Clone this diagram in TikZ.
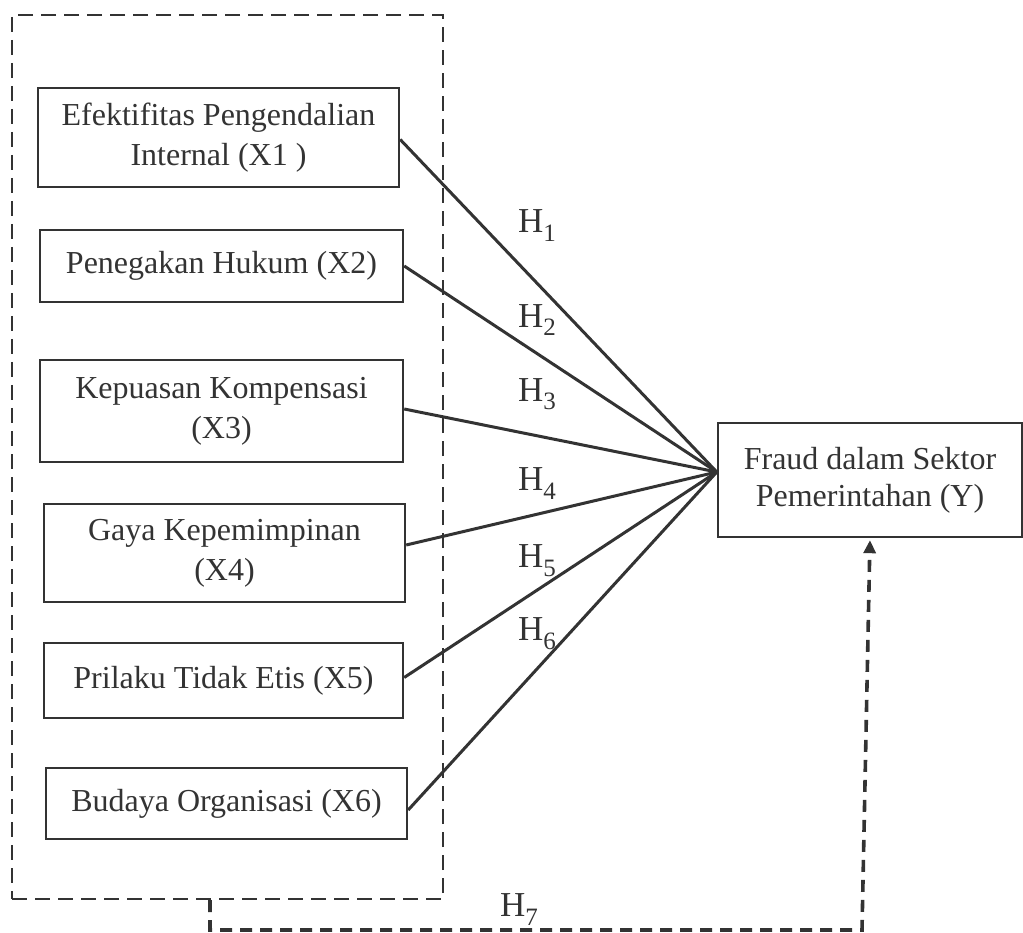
\documentclass[tikz,border=0pt]{standalone}
\usepackage{fontspec}
\setmainfont{Liberation Serif}
\usetikzlibrary{arrows.meta,calc}
\definecolor{ink}{HTML}{333333}
\newcommand{\hyp}[1]{H\raisebox{-9pt}{\fontsize{25}{25}\selectfont #1}}
\tikzset{
  varbox/.style={draw=ink, line width=2.4pt, text=ink, align=center, inner sep=0pt,
    font=\fontsize{32}{40}\selectfont},
  grpbox/.style={draw=ink, line width=2.4pt, dash pattern=on 15pt off 8pt, inner sep=0pt},
  link/.style={draw=ink, line width=3pt},
  dconn/.style={draw=ink, line width=3.6pt, dash pattern=on 12pt off 8pt},
  hlab/.style={text=ink, anchor=base west, inner sep=0pt, font=\fontsize{35}{38}\selectfont}
}
\begin{document}
\begin{tikzpicture}[x=1pt,y=-1pt]
\useasboundingbox (0,0) rectangle (1023,933);
\node[grpbox, minimum width=431pt, minimum height=884pt] (grp) at (227.5,457) {};
\node[varbox, minimum width=361pt, minimum height=99pt] (X1) at (218.5,137.5) {Efektifitas Pengendalian\\Internal (X1 )};
\node[varbox, minimum width=363pt, minimum height=72pt] (X2) at (221.5,266) {Penegakan Hukum (X2)};
\node[varbox, minimum width=363pt, minimum height=102pt] (X3) at (221.5,411) {Kepuasan Kompensasi\\(X3)};
\node[varbox, minimum width=361pt, minimum height=98pt] (X4) at (224.5,553) {Gaya Kepemimpinan\\(X4)};
\node[varbox, minimum width=359pt, minimum height=75pt] (X5) at (223.5,680.5) {Prilaku Tidak Etis (X5)};
\node[varbox, minimum width=361pt, minimum height=71pt] (X6) at (226.5,803.5) {Budaya Organisasi (X6)};
\node[varbox, minimum width=304pt, minimum height=114pt, font=\fontsize{32}{37}\selectfont] (Y) at (870,480) {Fraud dalam Sektor\\Pemerintahan (Y)};
\coordinate (tip) at ([yshift=8pt]Y.west);
\draw[link] ([yshift=-2pt]X1.east) -- (tip);
\draw[link] (X2.east) -- (tip);
\draw[link] ([yshift=2pt]X3.east) -- (tip);
\draw[link] ([yshift=8pt]X4.east) -- (tip);
\draw[link] ([yshift=3pt]X5.east) -- (tip);
\draw[link] ([yshift=-6.5pt]X6.east) -- (tip);
\node[hlab] (h1) at (518,233) {\hyp{1}};
\node[hlab] (h2) at (518,327) {\hyp{2}};
\node[hlab] (h3) at (518,401) {\hyp{3}};
\node[hlab] (h4) at (518,490) {\hyp{4}};
\node[hlab] (h5) at (518,567) {\hyp{5}};
\node[hlab] (h6) at (518,640) {\hyp{6}};
\node[hlab] (h7) at (500,916) {\hyp{7}};
\coordinate (c1) at (210,930);
\coordinate (c2) at (862,930);
\draw[dconn, -{Triangle[length=13pt,width=12pt]}, shorten >=2pt]
  (grp.south -| c1) -- (c1) -- (c2) -- (Y.south);
\end{tikzpicture}
\end{document}
